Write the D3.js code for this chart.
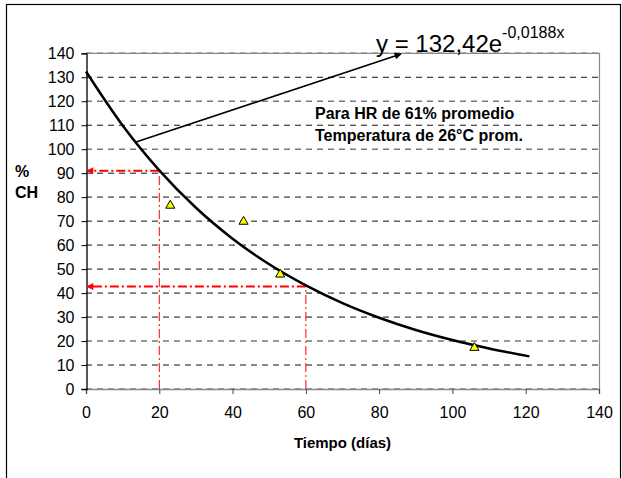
<!doctype html>
<html lang="es">
<head>
  <meta charset="utf-8">
  <title>% CH vs Tiempo</title>
  <script src="https://d3js.org/d3.v7.min.js"></script>
  <style>
    body { margin: 0; background: #fff; }
    text { font-family: Arial, "Liberation Sans", sans-serif; }
  </style>
</head>
<body>
  <svg id="chart" width="622" height="478"></svg>
  <script>
    // measured points (días, % CH)
    const dias = [23, 43, 53, 106];
    const ch = [76.5, 69.8, 47.8, 17.2];

    // exponential trend line
    const curveX = [0, 10, 20, 30, 40, 50, 60, 70, 80, 90, 100, 110, 121];
    const curveY = [132.4, 109.9, 91.2, 75.6, 62.7, 52.0, 43.2, 35.8, 29.7, 24.6, 20.4, 16.9, 13.6];

    // read-off guides (red dash-dot)
    const guideX = [20, 60];
    const guideY = [91, 42.7];

    const xTicks = [0, 20, 40, 60, 80, 100, 120, 140];
    const yTicks = [0, 10, 20, 30, 40, 50, 60, 70, 80, 90, 100, 110, 120, 130, 140];

    const svg = d3.select("#chart");

    const x = d3.scaleLinear().domain([0, 140]).range([86, 599]);
    const y = d3.scaleLinear().domain([0, 140]).range([389, 53.3]);

    // outer frame
    svg.append("rect")
      .attr("x", 6.5).attr("y", 4.5)
      .attr("width", 614).attr("height", 480)
      .attr("fill", "none").attr("stroke", "#000").attr("stroke-width", 1.2);

    // arrow markers
    const defs = svg.append("defs");
    [["arrBlack", "#000"], ["arrRed", "#f00"]].forEach(([id, c]) => {
      defs.append("marker").attr("id", id)
        .attr("viewBox", "0 0 10 10").attr("refX", 9).attr("refY", 5)
        .attr("markerWidth", 9).attr("markerHeight", 7)
        .attr("markerUnits", "userSpaceOnUse")
        .attr("orient", "auto")
        .append("path").attr("d", "M0,0L10,5L0,10Z").attr("fill", c);
    });

    // gridlines (alternate gray / black like the original rendering)
    svg.append("g")
      .selectAll("line")
      .data(yTicks)
      .join("line")
      .attr("x1", x(0)).attr("x2", x(140))
      .attr("y1", d => y(d)).attr("y2", d => y(d))
      .attr("stroke", (d, i) => i % 2 ? "#111" : "#777")
      .attr("stroke-width", (d, i) => i % 2 ? 1 : 1.6)
      .attr("stroke-dasharray", "6,5");

    // plot area border (top / right)
    svg.append("path")
      .attr("d", `M${x(0)},${y(140)}H${x(140) + 0.5}V${y(0)}`)
      .attr("fill", "none").attr("stroke", "#888").attr("stroke-width", 1.2);

    // axes
    const xAxis = svg.append("g")
      .attr("transform", `translate(0,${y(0)})`)
      .call(d3.axisBottom(x).tickValues(xTicks).tickSize(5).tickPadding(13));
    xAxis.select(".domain").attr("stroke", "#888").attr("stroke-width", 1.4);
    xAxis.selectAll(".tick line").attr("stroke", "#444");
    xAxis.selectAll("text").attr("font-size", 16).attr("fill", "#000")
      .attr("font-family", "Arial, 'Liberation Sans', sans-serif");

    const yAxis = svg.append("g")
      .attr("transform", `translate(${x(0) + 0.5},0)`)
      .call(d3.axisLeft(y).tickValues(yTicks).tickSize(5).tickPadding(7));
    yAxis.select(".domain").attr("stroke", "#000").attr("stroke-width", 1.3);
    yAxis.selectAll(".tick line").attr("stroke", "#000");
    yAxis.selectAll("text").attr("font-size", 16).attr("fill", "#000")
      .attr("font-family", "Arial, 'Liberation Sans', sans-serif");

    // red guides: vertical from the x-axis, horizontal arrow to the y-axis
    const guides = svg.append("g");
    guideX.forEach((gx, i) => {
      guides.append("line")
        .attr("x1", x(gx)).attr("x2", x(gx))
        .attr("y1", y(0)).attr("y2", y(guideY[i]))
        .attr("stroke", "#f00").attr("stroke-width", 1)
        .attr("stroke-dasharray", "9,3,2,3");
      guides.append("line")
        .attr("x1", x(gx)).attr("x2", x(0) + 1)
        .attr("y1", y(guideY[i])).attr("y2", y(guideY[i]))
        .attr("stroke", "#f00").attr("stroke-width", 2)
        .attr("stroke-dasharray", "9,3,2,3")
        .attr("marker-end", "url(#arrRed)");
    });

    // trend line
    const line = d3.line()
      .x((d, i) => x(curveX[i]))
      .y(d => y(d))
      .curve(d3.curveMonotoneX);
    svg.append("path")
      .datum(curveY)
      .attr("d", line)
      .attr("fill", "none").attr("stroke", "#000").attr("stroke-width", 2.5);

    // measured points
    svg.append("g")
      .selectAll("path")
      .data(ch)
      .join("path")
      .attr("transform", (d, i) => `translate(${x(dias[i])},${y(d)})`)
      .attr("d", d3.symbol(d3.symbolTriangle, 36))
      .attr("fill", "#ff0").attr("stroke", "#000").attr("stroke-width", 1);

    // annotation arrow to the equation
    svg.append("line")
      .attr("x1", 136).attr("y1", 142)
      .attr("x2", 401).attr("y2", 54)
      .attr("stroke", "#000").attr("stroke-width", 1.6)
      .attr("marker-end", "url(#arrBlack)");

    const eq = svg.append("text").attr("x", 376).attr("y", 51.5).attr("font-size", 24);
    eq.append("tspan").text("y = 132,42e");
    eq.append("tspan").attr("dy", -14).attr("font-size", 16).text("-0,0188x");

    svg.append("text").attr("x", 315).attr("y", 119)
      .attr("font-size", 16).attr("font-weight", "bold")
      .text("Para HR de 61% promedio");
    svg.append("text").attr("x", 315).attr("y", 141)
      .attr("font-size", 16).attr("font-weight", "bold")
      .text("Temperatura de 26°C prom.");

    // axis titles
    svg.append("text").attr("x", 15).attr("y", 177)
      .attr("font-size", 16).attr("font-weight", "bold").text("%");
    svg.append("text").attr("x", 15).attr("y", 198)
      .attr("font-size", 16).attr("font-weight", "bold").text("CH");

    svg.append("text").attr("x", (x(0) + x(140)) / 2).attr("y", 448)
      .attr("text-anchor", "middle")
      .attr("font-size", 15).attr("font-weight", "bold")
      .text("Tiempo (días)");
  </script>
</body>
</html>
